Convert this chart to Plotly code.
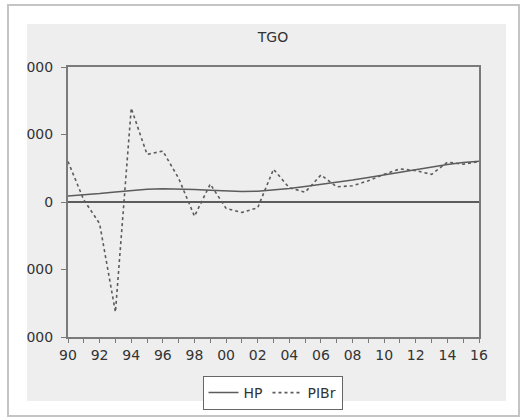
import plotly.graph_objects as go

years = list(range(1990, 2017))
hp = [90, 105, 125, 150, 172, 188, 196, 195, 186, 174, 162, 156, 160, 175, 200,
      228, 258, 290, 325, 363, 402, 442, 482, 520, 555, 585, 605]
pibr = [600, 30, -320, -1630, 1390, 705, 755, 350, -210, 265, -95, -155, -85,
        485, 210, 145, 400, 225, 240, 315, 410, 490, 465, 410, 590, 560, 600]
x_tick_vals = list(range(1990, 2017, 2))
x_tick_text = ["90", "92", "94", "96", "98", "00", "02", "04", "06", "08",
               "10", "12", "14", "16"]
y_tick_vals = [-2000, -1000, 0, 1000, 2000]

W, H = 522, 419
L, R, T, B = 68, 479, 67, 337  # plot area in pixels


def px(x):
    return (x - L) / (R - L)


def py(y):
    return (B - y) / (B - T)


FONT = "DejaVu Sans"
LINE = "#5c5c5c"

fig = go.Figure()
fig.add_trace(go.Scatter(x=years, y=hp, mode="lines", name="HP",
                         line=dict(color=LINE, width=1.5)))
fig.add_trace(go.Scatter(x=years, y=pibr, mode="lines", name="PIBr",
                         line=dict(color=LINE, width=1.6, dash="dot")))

shapes = [
    # gray panel
    dict(type="rect", xref="paper", yref="paper", layer="below",
         x0=px(27), x1=px(506), y0=py(401), y1=py(24),
         fillcolor="#eeeeee", line=dict(width=0)),
    # white cover clipping y tick labels at panel edge
    dict(type="rect", xref="paper", yref="paper", layer="above",
         x0=px(0), x1=px(27), y0=py(400), y1=py(25),
         fillcolor="white", line=dict(width=0)),
    # outer frame with shadow border
    dict(type="rect", xref="paper", yref="paper", layer="above",
         x0=px(8), x1=px(519), y0=py(416), y1=py(5),
         fillcolor="rgba(0,0,0,0)", line=dict(color="#c4c4c4", width=2)),
]

fig.update_layout(
    width=W, height=H,
    autosize=False,
    margin=dict(l=L, r=W - R, t=T, b=H - B, pad=0, autoexpand=False),
    paper_bgcolor="white",
    plot_bgcolor="#eeeeee",
    font=dict(family=FONT, size=14, color="#333333"),
    title=dict(text="TGO", x=273 / W, xref="container", xanchor="center",
               y=1 - 37 / H, yref="container", yanchor="middle",
               font=dict(family=FONT, size=14, color="#333333")),
    shapes=shapes,
    showlegend=True,
    legend=dict(orientation="h", x=px(272.5), xanchor="center",
                y=py(376), yanchor="top", bgcolor="white",
                bordercolor="#666666", borderwidth=1,
                font=dict(family=FONT, size=14, color="#333333"),
                itemwidth=30, tracegroupgap=0),
)

fig.update_xaxes(range=[1990, 2016], tickvals=x_tick_vals, ticktext=x_tick_text,
                 automargin=False,
                 showgrid=False, zeroline=False, showline=True, mirror=True,
                 linecolor="#7a7a7a", linewidth=2, ticks="outside", ticklen=4,
                 tickcolor="#7a7a7a", tickwidth=1,
                 minor=dict(ticks="outside", dtick=1, ticklen=4,
                            tickcolor="#7a7a7a", showgrid=False),
                 tickfont=dict(family=FONT, size=14, color="#333333"))
fig.update_yaxes(range=[-2000, 2000], tickvals=y_tick_vals,
                 automargin=False,
                 showgrid=False, zeroline=True, zerolinecolor="#5c5c5c",
                 zerolinewidth=1.5, showline=True, mirror=True,
                 linecolor="#7a7a7a", linewidth=2, ticks="outside", ticklen=5,
                 tickcolor="#7a7a7a", ticklabelstandoff=5,
                 tickfont=dict(family=FONT, size=14, color="#333333"))

fig.write_html("out.html",
               config={"displayModeBar": False},
               post_script="document.body.style.margin='0';"
                           "document.body.style.overflow='hidden';")
